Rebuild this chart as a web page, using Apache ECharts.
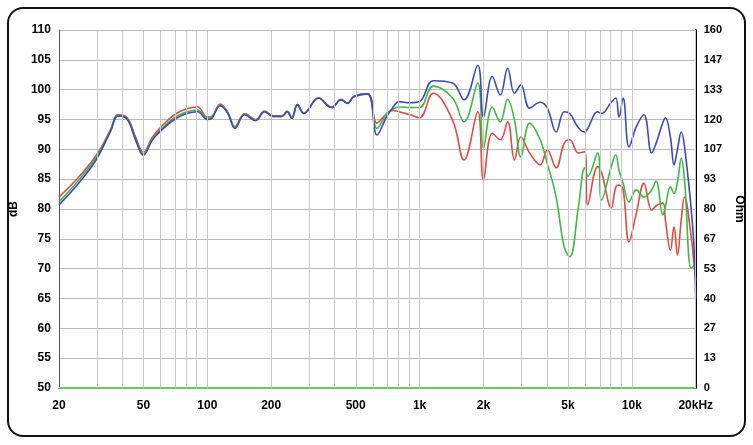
<!DOCTYPE html>
<html><head><meta charset="utf-8">
<script src="https://cdn.jsdelivr.net/npm/echarts@6/dist/echarts.min.js"></script>
<style>
body{margin:0;background:#fff;}
#frame{position:absolute;left:7px;top:7px;width:735px;height:426px;border:2.5px solid #111;border-radius:16px;}
#chart{position:absolute;left:0;top:0;width:753px;height:445px;}
</style></head><body>
<div id="frame"></div>
<div id="chart"></div>
<script>
const freqs = [20,25,30,35,38,42,46,50,55,60,70,80,90,100,105,115,125,135,150,169,186,205,224,238,250,266,285,334,385,427,458,490,570,
  630,700,745,800,900,1000,1160,1430,1620,1880,2000,2200,2400,2600,2800,3000,3300,3700,4000,4400,4800,5100,5600,6000,6200,6900,7200,
  8000,8400,8700,9100,9700,10500,11400,12400,13000,14000,14400,15200,15800,16400,17100,17700,19000,19600,20000];
const blue = [80.7,84.5,88.3,93,95.6,95,91.5,89,91.5,93,95,96,96.3,95,95.2,97.3,96,93.5,95.8,94.8,96.3,95.5,95.5,96.3,95.2,97.5,96,98.6,97,98.3,97.7,98.8,99.3,
  92.4,95.5,96.9,98,97.8,98,101.5,101.1,98.3,104.1,95.4,102.2,99.1,103.6,99.4,100.8,96.9,97.9,96.9,92.9,96.3,96,93.6,92.9,93.5,96.3,96,
  97.9,98.6,95.4,98.6,90.4,93.8,95.8,89.4,91,94.5,95.3,92,87.4,90,92.9,90.5,80.3,74,65];
const red = [82,85.5,89,93.3,95.8,95.3,92,89.5,92,93.6,95.8,96.8,97.1,95.4,95.5,97.6,96.2,93.8,96,95,96.4,95.6,95.6,96.4,95.3,97.5,96.1,98.6,97.1,98.4,97.8,98.9,99.3,
  94.4,96,96.5,96.3,95.8,95.3,99.4,94.9,88.2,96.3,84.9,92.7,91.6,94.6,88.2,92.1,89.4,87.4,89.9,86.9,91,91.6,89.4,89.6,80.7,87.1,86.1,
  80.2,83.7,84,83.2,74.5,79.3,84.3,79.8,80.5,81,78,73.1,77,72.3,78.3,82,75.6,71,68];
const green = [81.2,85,88.7,93.1,95.7,95.1,91.7,89.2,91.7,93.2,95.3,96.3,96.6,95.2,95.4,97.4,96.1,93.7,95.9,94.9,96.3,95.5,95.5,96.3,95.2,97.5,96,98.6,97,98.3,97.7,98.8,99.3,
  93.5,96,96.7,97.1,97,97,100.6,98.6,94.6,101.1,90.2,97.1,94.6,98.4,94.9,88.7,94.4,91.6,87.6,82,73.6,72,80.3,86.9,85.5,89.4,81.5,
  87.1,89.1,86.5,84.3,81.2,83.2,82,83.2,84.7,79,80.5,83.7,82.6,84.5,88.5,85,70.1,70.5,71];
const impedance = [0,0];
const gridFreqs = [20,30,40,50,60,70,80,90,100,200,300,400,500,600,700,800,900,1000,2000,3000,4000,5000,6000,7000,8000,9000,10000,20000];
const labelFreqs = [20,50,100,200,500,1000,2000,5000,10000,20000];
const labelText = ['20','50','100','200','500','1k','2k','5k','10k','20kHz'];

const lg = Math.log10;
const pts = arr => freqs.map((f,i)=>[lg(f),arr[i]]);
const chart = echarts.init(document.getElementById('chart'));
const lineSeries = (name,color,arr)=>({name,type:'line',data:pts(arr),smooth:0.4,showSymbol:false,
  lineStyle:{color,width:1.6},itemStyle:{color},z:3});
chart.setOption({
  animation:false,
  grid:{left:55,right:55,top:30,bottom:57},
  xAxis:{type:'value',min:lg(20),max:lg(20000),
    axisLine:{lineStyle:{color:'#555'}},axisTick:{show:false},splitLine:{show:false},
    axisLabel:{customValues:labelFreqs.map(lg),color:'#000',fontWeight:'bold',fontSize:12,margin:12,
      formatter:v=>{const i=labelFreqs.findIndex(f=>Math.abs(lg(f)-v)<1e-6);return i>=0?labelText[i]:'';}}},
  yAxis:[
    {type:'value',min:50,max:110,interval:5,name:'dB',nameLocation:'middle',nameGap:30,nameRotate:90,
      nameTextStyle:{color:'#000',fontWeight:'bold',fontSize:12},
      axisLine:{show:true,lineStyle:{color:'#555'}},axisTick:{show:false},
      axisLabel:{color:'#000',fontWeight:'bold',fontSize:12},
      splitLine:{lineStyle:{color:'#bbb',width:1.2}}},
    {type:'value',min:0,max:160,interval:160/12,name:'Ohm',nameLocation:'middle',nameGap:32,nameRotate:-90,
      nameTextStyle:{color:'#000',fontWeight:'bold',fontSize:12},
      axisLine:{show:true,lineStyle:{color:'#000',width:2}},axisTick:{show:false},
      axisLabel:{color:'#000',fontWeight:'bold',fontSize:11,formatter:v=>Math.round(v)},
      splitLine:{show:false}}
  ],
  series:[
    {type:'line',data:[],silent:true,markLine:{silent:true,symbol:'none',label:{show:false},
      lineStyle:{color:'#c8c8c8',width:1,type:'solid'},data:gridFreqs.map(f=>({xAxis:lg(f)}))}},
    {name:'Impedance',type:'line',yAxisIndex:1,data:[[lg(20),impedance[0]],[lg(20000),impedance[1]]],
      showSymbol:false,lineStyle:{color:'#5fcf5f',width:2}},
    lineSeries('Red','#de4a44',red),
    lineSeries('Green','#3fb845',green),
    lineSeries('Blue','#3f48b8',blue)
  ]
});
</script></body></html>
